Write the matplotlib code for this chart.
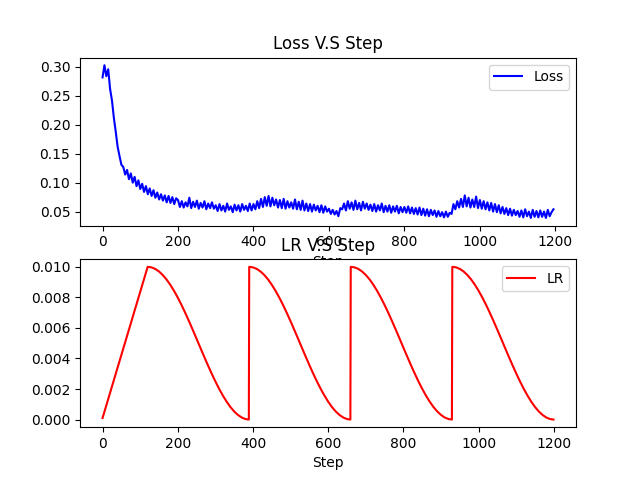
import numpy as np
import matplotlib
matplotlib.use("Agg")
import matplotlib.pyplot as plt

# loss read every 5 steps
loss_steps = np.arange(0, 1200, 5)
loss_values = [
    0.282, 0.303, 0.284, 0.296, 0.262, 0.242, 0.212, 0.188, 0.162, 0.146, 0.131, 0.127, 0.114, 0.122, 0.106, 0.116, 0.100, 0.110, 0.094, 0.104,
    0.089, 0.098, 0.084, 0.094, 0.080, 0.090, 0.077, 0.087, 0.074, 0.083, 0.071, 0.080, 0.069, 0.078, 0.066, 0.077, 0.065, 0.075, 0.063, 0.073,
    0.070, 0.058, 0.068, 0.057, 0.066, 0.059, 0.074, 0.056, 0.067, 0.058, 0.069, 0.055, 0.065, 0.057, 0.068, 0.054, 0.064, 0.056, 0.066, 0.055,
    0.061, 0.051, 0.063, 0.052, 0.060, 0.050, 0.064, 0.053, 0.059, 0.049, 0.062, 0.052, 0.061, 0.050, 0.063, 0.053, 0.060, 0.051, 0.064, 0.052,
    0.063, 0.054, 0.068, 0.056, 0.072, 0.058, 0.075, 0.060, 0.077, 0.059, 0.074, 0.061, 0.071, 0.057, 0.070, 0.056, 0.072, 0.055, 0.068, 0.057,
    0.066, 0.055, 0.071, 0.054, 0.067, 0.053, 0.069, 0.052, 0.064, 0.051, 0.063, 0.050, 0.062, 0.052, 0.060, 0.049, 0.061, 0.048, 0.059, 0.050,
    0.055, 0.046, 0.053, 0.045, 0.051, 0.042, 0.056, 0.054, 0.064, 0.052, 0.068, 0.055, 0.066, 0.053, 0.069, 0.054, 0.065, 0.052, 0.067, 0.055,
    0.064, 0.053, 0.062, 0.051, 0.063, 0.050, 0.061, 0.052, 0.064, 0.049, 0.060, 0.050, 0.061, 0.048, 0.059, 0.050, 0.060, 0.047, 0.058, 0.049,
    0.058, 0.048, 0.059, 0.047, 0.057, 0.046, 0.056, 0.045, 0.057, 0.044, 0.055, 0.043, 0.054, 0.042, 0.053, 0.044, 0.052, 0.041, 0.051, 0.042,
    0.049, 0.040, 0.050, 0.041, 0.048, 0.046, 0.063, 0.054, 0.068, 0.057, 0.072, 0.058, 0.078, 0.059, 0.074, 0.057, 0.071, 0.058, 0.076, 0.056,
    0.070, 0.055, 0.068, 0.054, 0.066, 0.052, 0.065, 0.050, 0.063, 0.049, 0.061, 0.047, 0.058, 0.046, 0.056, 0.044, 0.055, 0.043, 0.053, 0.044,
    0.051, 0.041, 0.052, 0.040, 0.054, 0.042, 0.050, 0.039, 0.053, 0.041, 0.051, 0.040, 0.052, 0.041, 0.050, 0.039, 0.053, 0.042, 0.049, 0.054,
]

# lr: warmup then 4 restarts
warmup_steps = [0, 120]
warmup_lr = [0.0001, 0.0100]
cycle_starts = [120, 390, 660, 930]
cycle_offsets = list(range(0, 270, 10)) + [269]
cycle_lr = [
    0.010000, 0.009966, 0.009865, 0.009698, 0.009468, 0.009178, 0.008830, 0.008431, 0.007986,
    0.007500, 0.006980, 0.006434, 0.005868, 0.005291, 0.004709, 0.004132, 0.003566, 0.003020,
    0.002500, 0.002014, 0.001569, 0.001170, 0.000822, 0.000532, 0.000302, 0.000135, 0.000034,
    0.000000,
]

lr_steps = list(warmup_steps)
lr_values = list(warmup_lr)
for s in cycle_starts:
    lr_steps += [s + o for o in cycle_offsets]
    lr_values += cycle_lr

fig = plt.figure(figsize=(6.4, 4.8), dpi=100)

plt.subplot(2, 1, 1)
plt.plot(loss_steps, loss_values, "b", label="Loss")
plt.title("Loss V.S Step")
plt.xlabel("Step")
plt.legend(loc="upper right")

plt.subplot(2, 1, 2)
plt.plot(lr_steps, lr_values, "r", label="LR")
plt.title("LR V.S Step")
plt.xlabel("Step")
plt.legend(loc="upper right")

plt.savefig("out.png", dpi=100)
